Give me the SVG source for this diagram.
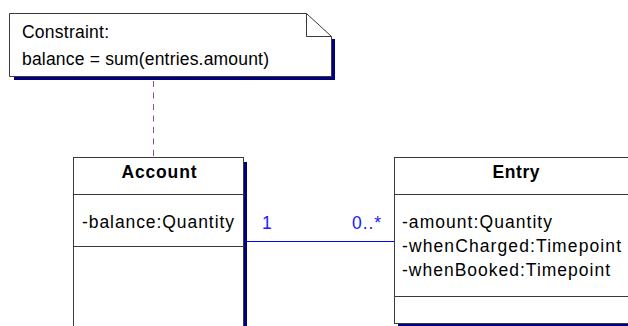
<svg xmlns="http://www.w3.org/2000/svg" width="628" height="326" viewBox="0 0 628 326">
<style>
.box{fill:#fff;stroke:#3a3a3a;stroke-width:1}
.sep{stroke:#3a3a3a;stroke-width:1}
.shadow{fill:#000080}
.t{font-family:"Liberation Sans",Arial,sans-serif;font-size:17.5px;fill:#000}
.b{font-weight:bold;text-anchor:middle}
.m{font-family:"Liberation Sans",Arial,sans-serif;font-size:17.5px;fill:#1a1aff}
</style>
<rect width="628" height="326" fill="#fff"/>
<g id="note">
<rect class="shadow" x="14" y="76" width="321" height="4"/>
<rect class="shadow" x="331" y="39" width="4" height="41"/>
<path class="box" d="M9.5,13.5 H306.5 L331.5,36.5 V76.5 H9.5 Z"/>
<path d="M306.5,13.5 V36.5 H331.5" fill="none" stroke="#3a3a3a"/>
<text class="t" x="22" y="38" textLength="87" lengthAdjust="spacing">Constraint:</text>
<text class="t" x="22" y="65" textLength="247" lengthAdjust="spacing">balance = sum(entries.amount)</text>
</g>
<g id="account">
<rect class="shadow" x="243" y="162" width="4" height="170"/>
<rect class="box" x="73.5" y="157.5" width="170" height="180"/>
<line class="sep" x1="73" y1="194.5" x2="243" y2="194.5"/>
<line class="sep" x1="73" y1="246.5" x2="243" y2="246.5"/>
<text class="t b" x="159" y="178" textLength="75" lengthAdjust="spacing">Account</text>
<text class="t" x="82" y="228" textLength="152" lengthAdjust="spacing">-balance:Quantity</text>
</g>
<g id="entry">
<rect class="shadow" x="398" y="324" width="240" height="4"/>
<rect class="box" x="394.5" y="157.5" width="250" height="166"/>
<line class="sep" x1="394" y1="194.5" x2="640" y2="194.5"/>
<line class="sep" x1="394" y1="296.5" x2="640" y2="296.5"/>
<text class="t b" x="516" y="178" textLength="47" lengthAdjust="spacing">Entry</text>
<text class="t" x="402" y="228" textLength="150" lengthAdjust="spacing">-amount:Quantity</text>
<text class="t" x="402" y="252" textLength="219" lengthAdjust="spacing">-whenCharged:Timepoint</text>
<text class="t" x="402" y="276" textLength="208" lengthAdjust="spacing">-whenBooked:Timepoint</text>
</g>
<g id="connectors">
<line x1="153.5" y1="81" x2="153.5" y2="157" stroke="#8e4a9e" stroke-width="1" stroke-dasharray="6,5.5"/>
<rect x="247" y="241" width="147" height="1" fill="#0000ff"/>
<text class="m" x="262" y="229" textLength="8" lengthAdjust="spacing">1</text>
<text class="m" x="352" y="229" textLength="29" lengthAdjust="spacing">0..*</text>
</g>
</svg>
